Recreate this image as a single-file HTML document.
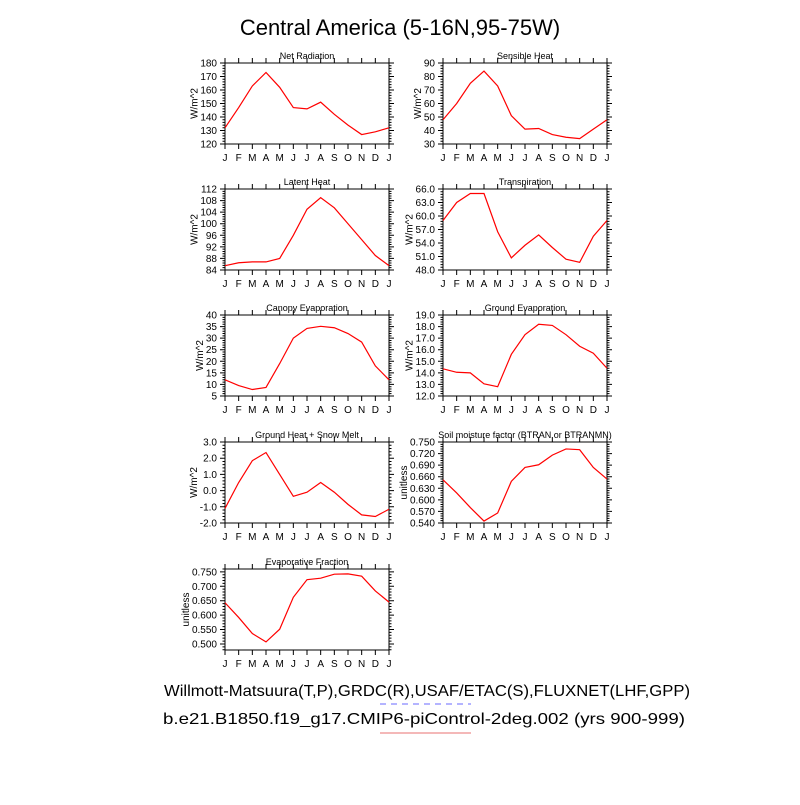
<!DOCTYPE html>
<html><head><meta charset="utf-8"><style>
body{margin:0;background:#fff;}
svg text{font-family:"Liberation Sans",sans-serif;}
</style></head><body>
<svg id="chart" width="800" height="800" viewBox="0 0 800 800" xmlns="http://www.w3.org/2000/svg">
<text x="400" y="35" font-size="22" text-anchor="middle">Central America (5-16N,95-75W)</text>
<text x="164" y="696" font-size="16" textLength="526" lengthAdjust="spacingAndGlyphs">Willmott-Matsuura(T,P),GRDC(R),USAF/ETAC(S),FLUXNET(LHF,GPP)</text>
<line x1="380" y1="704" x2="471" y2="704" stroke="#6a6aff" stroke-width="1" stroke-dasharray="6,5"/>
<text x="163" y="724" font-size="16" textLength="522" lengthAdjust="spacingAndGlyphs">b.e21.B1850.f19_g17.CMIP6-piControl-2deg.002 (yrs 900-999)</text>
<line x1="380" y1="733" x2="471" y2="733" stroke="#e87070" stroke-width="1"/>
<g id="panels"></g>
</svg>
<script>
const months = ["J","F","M","A","M","J","J","A","S","O","N","D","J"];
const netRad = [132,147,163,173,162,147,146,151,142,134,127,129,132];
const sensible = [48,60,75,84,73,51,41,41.5,37,35,34,41,48];
const latent = [85.5,86.5,86.8,86.8,88,96,105,109,105.5,100,94.5,89,85.5];
const transp = [59,63,65,65,56.5,50.7,53.5,55.8,53,50.4,49.7,55.5,59];
const canopy = [12,9.5,7.8,8.7,19,30,34.2,35.1,34.5,32,28.3,18,12];
const groundEvap = [14.35,14.05,14.0,13.05,12.8,15.6,17.3,18.2,18.1,17.3,16.3,15.7,14.4];
const groundHeat = [-1.1,0.5,1.85,2.35,1.0,-0.35,-0.1,0.5,-0.1,-0.85,-1.5,-1.6,-1.15];
const soil = [0.652,0.618,0.580,0.545,0.566,0.648,0.684,0.691,0.716,0.732,0.730,0.684,0.654];
const evapFrac = [0.643,0.592,0.536,0.507,0.551,0.662,0.723,0.728,0.742,0.743,0.735,0.684,0.645];
const netRadTicks = ["120","130","140","150","160","170","180"];
const sensibleTicks = ["30","40","50","60","70","80","90"];
const latentTicks = ["84","88","92","96","100","104","108","112"];
const transpTicks = ["48.0","51.0","54.0","57.0","60.0","63.0","66.0"];
const canopyTicks = ["5","10","15","20","25","30","35","40"];
const groundEvapTicks = ["12.0","13.0","14.0","15.0","16.0","17.0","18.0","19.0"];
const groundHeatTicks = ["-2.0","-1.0","0.0","1.0","2.0","3.0"];
const soilTicks = ["0.540","0.570","0.600","0.630","0.660","0.690","0.720","0.750"];
const evapFracTicks = ["0.500","0.550","0.600","0.650","0.700","0.750"];

const NS="http://www.w3.org/2000/svg";
const panels=[
 {key:"net-radiation",title:"Net Radiation",unit:"W/m^2",data:netRad,ticks:netRadTicks,min:120,max:180,col:0,row:0},
 {key:"sensible-heat",title:"Sensible Heat",unit:"W/m^2",data:sensible,ticks:sensibleTicks,min:30,max:90,col:1,row:0},
 {key:"latent-heat",title:"Latent Heat",unit:"W/m^2",data:latent,ticks:latentTicks,min:84,max:112,col:0,row:1},
 {key:"transpiration",title:"Transpiration",unit:"W/m^2",data:transp,ticks:transpTicks,min:48,max:66,col:1,row:1},
 {key:"canopy-evaporation",title:"Canopy Evaporation",unit:"W/m^2",data:canopy,ticks:canopyTicks,min:5,max:40,col:0,row:2},
 {key:"ground-evaporation",title:"Ground Evaporation",unit:"W/m^2",data:groundEvap,ticks:groundEvapTicks,min:12,max:19,col:1,row:2},
 {key:"ground-heat",title:"Ground Heat + Snow Melt",unit:"W/m^2",data:groundHeat,ticks:groundHeatTicks,min:-2,max:3,col:0,row:3},
 {key:"soil-moisture",title:"Soil moisture factor (BTRAN or BTRANMN)",unit:"unitless",data:soil,ticks:soilTicks,min:0.54,max:0.75,col:1,row:3},
 {key:"evaporative-fraction",title:"Evaporative Fraction",unit:"unitless",data:evapFrac,ticks:evapFracTicks,min:0.479,max:0.760,col:0,row:4}
];
const colX=[225,443], rowY=[63,189,315,442,569], W=164, H=81;
const root=document.getElementById("panels");
function mk(tag,attrs,parent){const e=document.createElementNS(NS,tag);for(const k in attrs)e.setAttribute(k,attrs[k]);parent.appendChild(e);return e;}
panels.forEach(p=>{
 const x0=colX[p.col], y0=rowY[p.row];
 const g=mk("g",{},root);
 
 
 const xs=i=>x0+i*W/12;
 const ys=v=>y0+H-(v-p.min)/(p.max-p.min)*H;
 const t=mk("text",{x:x0+W/2,y:y0-4,"font-size":9,"text-anchor":"middle"},g);
 t.textContent=p.title;
 
 
 let d="";
 months.forEach((m,i)=>{
  const x=xs(i);
  d+=`M${x},${y0+H}v5M${x},${y0}v-5`;
  const lt=mk("text",{x:x,y:y0+H+17,"font-size":10,"text-anchor":"middle"},g);
  lt.textContent=m;
  
  
 });
 const step=(parseFloat(p.ticks[1])-parseFloat(p.ticks[0]));
 let maxW=0;
 p.ticks.forEach(s=>{
  const v=parseFloat(s), y=ys(v);
  d+=`M${x0},${y}h-5M${x0+W},${y}h5`;
  for(let k=1;k<5;k++){const vm=v+k*step/5; if(vm<=p.max+1e-9){const ym=ys(vm);d+=`M${x0},${ym}h-2.5M${x0+W},${ym}h2.5`;}}
  if(s===p.ticks[0]){for(let k=1;k<5;k++){const vm=v-k*step/5; if(vm>=p.min-1e-9){const ym=ys(vm);d+=`M${x0},${ym}h-2.5M${x0+W},${ym}h2.5`;}}}
  const lt=mk("text",{x:x0-8,y:y+3.5,"font-size":10,"text-anchor":"end"},g);
  lt.textContent=s;
  
  
  maxW=Math.max(maxW,lt.getComputedTextLength());
 });
 const tx=x0-8-maxW-3;
 const yl=mk("text",{x:0,y:0,"font-size":10,"text-anchor":"middle",transform:`translate(${tx},${y0+H/2}) rotate(-90)`},g);
 yl.textContent=p.unit;
 
 
 const tk=mk("path",{d:d,stroke:"#000","stroke-width":1,fill:"none"},g);
 
 
 const fr=mk("rect",{x:x0,y:y0,width:W,height:H,fill:"none",stroke:"#000","stroke-width":1},g);
 
 
 const pts=p.data.map((v,i)=>`${xs(i).toFixed(2)},${ys(v).toFixed(2)}`).join(" ");
 const ln=mk("polyline",{points:pts,fill:"none",stroke:"#ff0000","stroke-width":1.2},g);
 
 
});
</script>
</body></html>
